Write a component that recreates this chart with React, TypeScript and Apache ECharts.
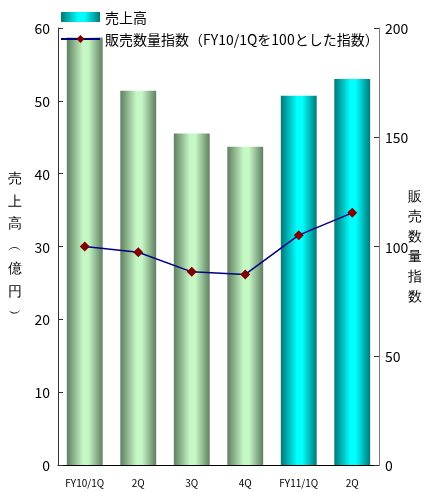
import React, { useEffect, useRef } from "react";
import * as echarts from "echarts";

const categories = ["FY10/1Q", "2Q", "3Q", "4Q", "FY11/1Q", "2Q"];
const salesValues = [58.7, 51.4, 45.5, 43.7, 50.7, 53.0];
const indexValues = [100, 97.4, 88.4, 87.2, 105.2, 115.4];
const leftTicks = [0, 10, 20, 30, 40, 50, 60];
const rightTicks = [0, 50, 100, 150, 200];
const salesName = "売上高";
const indexName = "販売数量指数（FY10/1Qを100とした指数）";
const leftAxisTitle = ["売", "上", "高", "︵", "億", "円", "︶"];
const rightAxisTitle = ["販", "売", "数", "量", "指", "数"];

const FONT = '"Noto Sans CJK JP", "Noto Sans", sans-serif';

function grad(dark: string, light: string) {
  return new echarts.graphic.LinearGradient(0, 0, 1, 0, [
    { offset: 0, color: dark },
    { offset: 0.45, color: light },
    { offset: 0.6, color: light },
    { offset: 1, color: dark },
  ]);
}

export default function App() {
  const ref = useRef<HTMLDivElement>(null);
  useEffect(() => {
    if (!ref.current) return;
    const chart = echarts.init(ref.current, undefined, { renderer: "svg" });
    const green = grad("#5f7f5f", "#c6f8c6");
    const cyan = grad("#007878", "#00ffff");
    chart.setOption({
      animation: false,
      textStyle: { fontFamily: FONT },
      grid: { left: 58, right: 51, top: 28, bottom: 27, containLabel: false },
      legend: {
        orient: "vertical",
        left: 55,
        top: 5,
        itemWidth: 39,
        itemHeight: 10,
        itemGap: 8,
        textStyle: { fontSize: 14, color: "#000", fontFamily: FONT },
        data: [{ name: salesName, icon: "rect" }, { name: indexName }],
      },
      xAxis: {
        type: "category",
        data: categories,
        boundaryGap: true,
        axisLine: { lineStyle: { color: "#000", width: 1 } },
        axisTick: { inside: true, length: 5, lineStyle: { color: "#000" } },
        axisLabel: { fontSize: 10, color: "#000", margin: 12, fontFamily: FONT },
      },
      yAxis: [
        {
          type: "value",
          min: leftTicks[0],
          max: leftTicks[leftTicks.length - 1],
          interval: 10,
          axisLine: { show: true, lineStyle: { color: "#333" } },
          axisTick: { show: true, inside: true, length: 5, lineStyle: { color: "#333" } },
          axisLabel: { fontSize: 14, color: "#000", margin: 8, fontFamily: FONT },
          splitLine: { show: false },
        },
        {
          type: "value",
          min: rightTicks[0],
          max: rightTicks[rightTicks.length - 1],
          interval: 50,
          position: "right",
          axisLine: { show: true, lineStyle: { color: "#808080" } },
          axisTick: { show: true, inside: true, length: 5, lineStyle: { color: "#333" } },
          axisLabel: { fontSize: 14, color: "#000", margin: 6, fontFamily: FONT },
          splitLine: { show: false },
        },
      ],
      series: [
        {
          name: salesName,
          type: "bar",
          yAxisIndex: 0,
          barWidth: "67%",
          itemStyle: { color: cyan },
          data: salesValues.map((v, i) => ({
            value: v,
            itemStyle: { color: i < 4 ? green : cyan },
          })),
        },
        {
          name: indexName,
          type: "line",
          yAxisIndex: 1,
          data: indexValues,
          symbol: "diamond",
          symbolSize: 10,
          lineStyle: { color: "#000080", width: 1.5 },
          itemStyle: { color: "#800000" },
        },
      ],
      graphic: [
        ...leftAxisTitle.map((c, i) => ({
          type: "text",
          left: 8,
          top: 171 + i * 22.5,
          style: { text: c, fontSize: 14, fill: "#000", font: `14px ${FONT}` },
        })),
        ...rightAxisTitle.map((c, i) => ({
          type: "text",
          left: 408,
          top: 189 + i * 20,
          style: { text: c, fontSize: 14, fill: "#000", font: `14px ${FONT}` },
        })),
      ],
    });
    return () => chart.dispose();
  }, []);
  return (
    <div
      ref={ref}
      style={{ position: "fixed", left: 0, top: 0, width: 430, height: 492 }}
    />
  );
}
